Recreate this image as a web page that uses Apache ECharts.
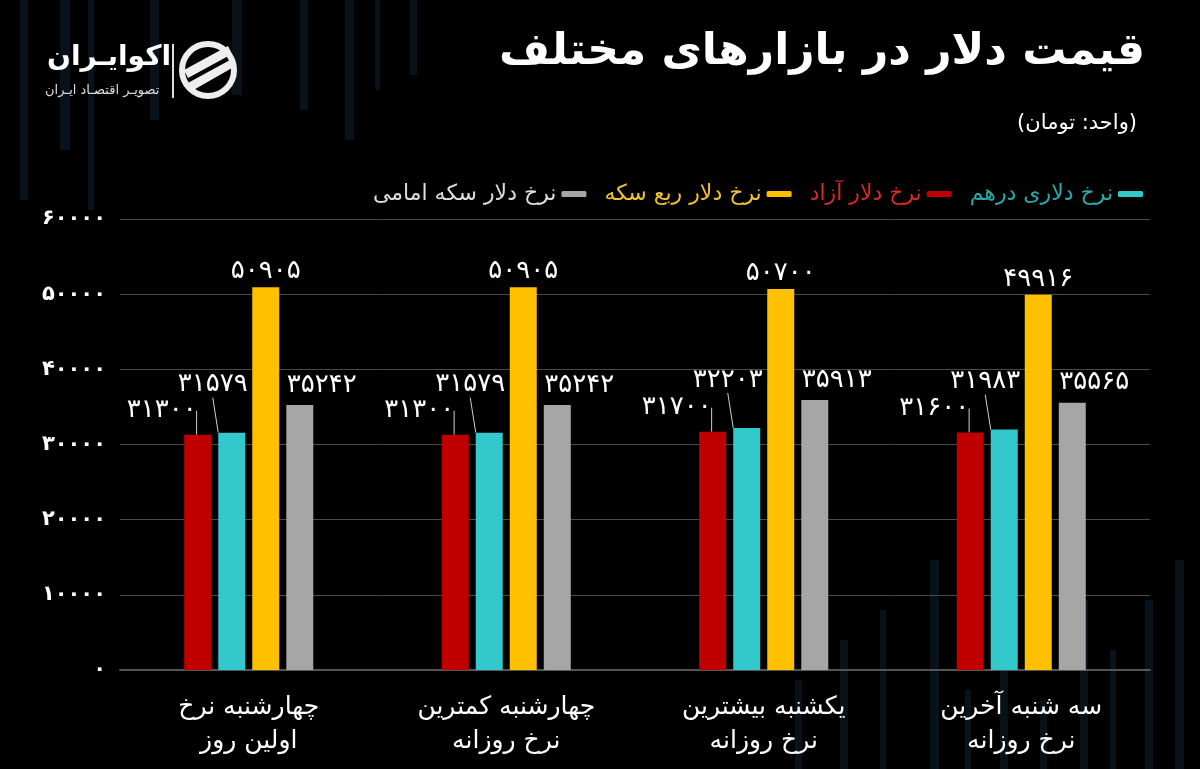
<!DOCTYPE html>
<html>
<head>
<meta charset="utf-8">
<script src="https://cdn.jsdelivr.net/npm/echarts@6/dist/echarts.min.js"></script>
<style>
html,body{margin:0;padding:0;background:#000;}
#c{width:1200px;height:769px;}
</style>
</head>
<body>
<div id="c"></div>
<script>
const categories = ['چهارشنبه نرخ\nاولین روز', 'چهارشنبه کمترین\nنرخ روزانه', 'یکشنبه بیشترین\nنرخ روزانه', 'سه شنبه آخرین\nنرخ روزانه'];
const seriesNames = ['نرخ دلار آزاد', 'نرخ دلاری درهم', 'نرخ دلار ربع سکه', 'نرخ دلار سکه امامی'];
const azad = [31300, 31300, 31700, 31600];
const derham = [31579, 31579, 32203, 31983];
const robSekke = [50905, 50905, 50700, 49916];
const emami = [35242, 35242, 35913, 35565];
const yTicks = [0, 10000, 20000, 30000, 40000, 50000, 60000];
const titleText = 'قیمت دلار در بازارهای مختلف';
const subtitleText = '(واحد: تومان)';

const colors = ['#c00000', '#33c8cc', '#ffc000', '#a6a6a6'];
const legendColors = ['#d42a2a', '#2aa9ab', '#f2c12e', '#dddddd'];
const FA = '۰۱۲۳۴۵۶۷۸۹';
const toFa = v => String(v).replace(/\d/g, d => FA[d]);
const font = "'DejaVu Sans', 'Noto Sans', sans-serif";

const chart = echarts.init(document.getElementById('c'));

const values = [azad, derham, robSekke, emami];
const layouts = [
  {dx: -36, dy: -8},
  {dx: -19, dy: -32},
  {dx: 0, dy: 0},
  {dx: 22, dy: -4}
];
const lines = [true, true, false, false];

const series = values.map((arr, i) => ({
  name: seriesNames[i],
  type: 'bar',
  data: arr,
  barWidth: 27,
  barGap: '26%',
  itemStyle: {color: colors[i]},
  label: {
    show: true,
    position: 'top',
    distance: 3,
    color: '#fff',
    fontFamily: font,
    fontSize: 26,
    formatter: p => toFa(p.value)
  },
  labelLayout: layouts[i],
  labelLine: {show: lines[i], lineStyle: {color: '#cfcfcf', width: 1}}
}));

const legendOrder = [3, 2, 0, 1];

// decorative faint background stripes
const stripes = [];
const topStripes = [[20,0,8,200],[60,0,10,150],[88,0,6,210],[150,0,9,120],[232,0,10,95],[300,0,8,110],[345,0,9,140],[375,0,5,90],[410,0,7,75]];
const botStripes = [[795,680,7,89],[840,640,8,129],[880,610,6,159],[930,560,9,209],[965,690,6,79],[1000,640,8,129],[1040,700,7,69],[1080,600,8,169],[1110,650,6,119],[1145,600,8,169],[1175,560,9,209]];
topStripes.concat(botStripes).forEach(s => stripes.push({type: 'rect', z: -10, silent: true, shape: {x: s[0], y: s[1], width: s[2], height: s[3]}, style: {fill: '#08121a'}}));

chart.setOption({
  backgroundColor: '#000',
  animation: false,
  textStyle: {fontFamily: font},
  title: [
    {text: titleText, right: 50, top: 26, textStyle: {color: '#fff', fontSize: 44, fontWeight: 'bold', fontFamily: font}},
    {text: subtitleText, right: 58, top: 108, textStyle: {color: '#fff', fontSize: 21, fontWeight: 'normal', fontFamily: font}}
  ],
  legend: {
    right: 52,
    top: 178,
    align: 'right',
    itemWidth: 25,
    itemHeight: 6,
    itemGap: 18,
    icon: 'roundRect',
    data: legendOrder.map(i => ({name: seriesNames[i], textStyle: {color: legendColors[i]}})),
    textStyle: {fontSize: 22, fontFamily: font}
  },
  grid: {left: 120, right: 50, top: 219, bottom: 99, containLabel: false},
  xAxis: {
    type: 'category',
    data: categories,
    axisLine: {lineStyle: {color: '#555', width: 2}},
    axisTick: {show: false},
    axisLabel: {color: '#fff', fontSize: 25, lineHeight: 34, margin: 20, fontFamily: font}
  },
  yAxis: {
    type: 'value',
    min: yTicks[0],
    max: yTicks[yTicks.length - 1],
    interval: yTicks[1] - yTicks[0],
    axisLine: {show: false},
    axisTick: {show: false},
    splitLine: {lineStyle: {color: '#4a4a4a', width: 1}},
    axisLabel: {color: '#fff', fontSize: 21, fontWeight: 'bold', margin: 14, fontFamily: font, formatter: v => toFa(v)}
  },
  graphic: stripes.concat([
    {type: 'text', left: 47, top: 44, style: {text: 'اکوایـران', fill: '#fff', font: "bold 28px 'DejaVu Sans'"}},
    {type: 'text', left: 45, top: 84, style: {text: 'تصویـر اقتصـاد ایـران', fill: '#ddd', font: "13px 'DejaVu Sans'"}},
    {type: 'rect', shape: {x: 172, y: 44, width: 2, height: 54}, style: {fill: '#ddd'}},
    {type: 'circle', shape: {cx: 208, cy: 70, r: 26}, style: {fill: 'none', stroke: '#eee', lineWidth: 6}},
    {type: 'polygon', shape: {points: [[184, 70], [228, 46], [232, 54], [188, 78]]}, style: {fill: '#eee'}},
    {type: 'polygon', shape: {points: [[186, 84], [230, 60], [232, 68], [190, 92]]}, style: {fill: '#eee'}}
  ]),
  series: series
});
</script>
</body>
</html>
